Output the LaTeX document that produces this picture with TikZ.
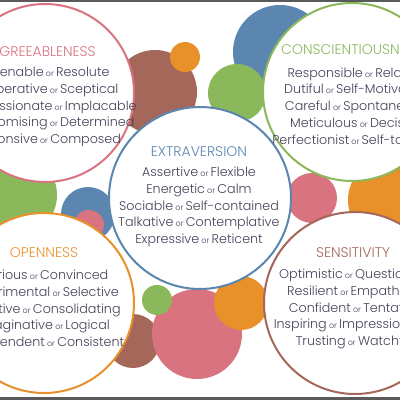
\documentclass[tikz,border=0pt]{standalone}
\usepackage{fontspec}
\setmainfont{Poppins Light}
\usepackage{tikz}
\definecolor{PinkRose}{HTML}{D8737F}
\definecolor{BrownClay}{HTML}{A5675A}
\definecolor{OrangeAmber}{HTML}{E8912B}
\definecolor{BlueSteel}{HTML}{5A86B0}
\definecolor{GreenLeaf}{HTML}{8BB85B}
\definecolor{InkSlate}{HTML}{46415A}
\definecolor{FrameGray}{HTML}{5A5A5A}
\newcommand{\orw}{{\fontsize{8}{8}\selectfont\ or\ }}

\begin{document}
\begin{tikzpicture}[x=1pt, y=-1pt,
    bubble/.style={line width=2pt, fill=white},
    traittitle/.style={font=\fontsize{14}{16}\selectfont, inner sep=0pt},
    traittext/.style={font=\fontsize{12.7}{16.8}\selectfont, align=center,
      text=InkSlate, inner sep=0pt}]
  \useasboundingbox (0,0) rectangle (400,400);
  \clip (0,0) rectangle (400,400);
  % background dots
  \fill[BrownClay] (155,92) circle (42);
  \fill[OrangeAmber] (185,57) circle (15);
  \fill[BlueSteel] (280,52) circle (47);
  \fill[GreenLeaf] (237,93) circle (29);
  \fill[GreenLeaf] (15,195) circle (42);
  \fill[BlueSteel] (88,214) circle (27);
  \fill[PinkRose] (89,225) circle (15);
  \fill[PinkRose] (312,198) circle (25);
  \fill[OrangeAmber] (390,200) circle (42);
  \fill[BrownClay] (133,341) circle (27);
  \fill[PinkRose] (197,334) circle (45);
  \fill[GreenLeaf] (157,300) circle (15);
  \fill[OrangeAmber] (241,303) circle (27);
  % trait circles
  \draw[bubble, draw=PinkRose] (45,93) circle (89);
  \draw[bubble, draw=GreenLeaf] (352,92) circle (89);
  \draw[bubble, draw=BlueSteel] (200,198) circle (91);
  \draw[bubble, draw=OrangeAmber] (44,303) circle (90);
  \draw[bubble, draw=BrownClay] (355,303) circle (91);
  % agreeableness
  \node[traittitle, text=PinkRose] (agreetitle) at (43,52) {AGREEABLENESS};
  \node[traittext] (agreetext) at (44,107)
    {Amenable\orw Resolute\\ Cooperative\orw Sceptical\\
     Compassionate\orw Implacable\\ Compromising\orw Determined\\
     Responsive\orw Composed};
  % conscientiousness
  \node[traittitle, text=GreenLeaf] (constitle) at (352,50) {CONSCIENTIOUSNESS};
  \node[traittext] (constext) at (356,106)
    {Responsible\orw Relaxed\\ Dutiful\orw Self-Motivated\\
     Careful\orw Spontaneous\\ Meticulous\orw Decisive\\
     Perfectionist\orw Self-tolerant};
  % extraversion
  \node[traittitle, text=BlueSteel] (extratitle) at (199,152) {EXTRAVERSION};
  \node[traittext] (extratext) at (199,207)
    {Assertive\orw Flexible\\ Energetic\orw Calm\\
     Sociable\orw Self-contained\\ Talkative\orw Contemplative\\
     Expressive\orw Reticent};
  % openness
  \node[traittitle, text=OrangeAmber] (opentitle) at (44,253) {OPENNESS};
  \node[traittext] (opentext) at (44,310)
    {Curious\orw Convinced\\ Experimental\orw Selective\\
     Creative\orw Consolidating\\ Imaginative\orw Logical\\
     Independent\orw Consistent};
  % sensitivity
  \node[traittitle, text=BrownClay] (senstitle) at (353,253) {SENSITIVITY};
  \node[traittext] (senstext) at (355,309)
    {Optimistic\orw Questioning\\ Resilient\orw Empathetic\\
     Confident\orw Tentative\\ Inspiring\orw Impressionable\\
     Trusting\orw Watchful};
  % frame bars
  \fill[FrameGray] (0,0) rectangle (400,1.5);
  \fill[FrameGray] (0,397) rectangle (400,400);
\end{tikzpicture}
\end{document}
